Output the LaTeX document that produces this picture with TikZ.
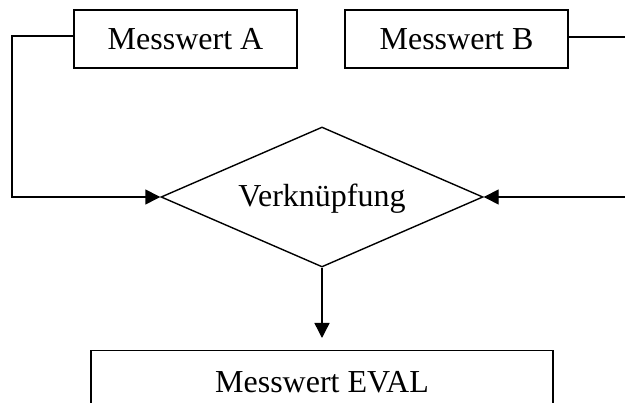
\documentclass[tikz,border=0pt]{standalone}
\usepackage{fontspec}
\setmainfont{Liberation Serif}
\usetikzlibrary{shapes.geometric,arrows.meta}
\begin{document}
\begin{tikzpicture}[x=1pt,y=-1pt,
  line width=1.4pt,
  label font/.style={font=\fontsize{32}{37}\selectfont},
  box/.style={draw,rectangle,minimum width=223pt,minimum height=58pt,inner sep=0pt,label font},
  decision/.style={draw,diamond,aspect=2.3,minimum width=322pt,minimum height=140pt,inner sep=0pt},
  flow/.style={-{Triangle[length=15pt,width=15pt]}}]
\useasboundingbox (0,0) rectangle (625,403);
\clip (0,0) rectangle (625,403);
% input boxes
\node[box] (a) at (185.5,39) {Messwert A};
\node[box] (b) at (456.5,39) {Messwert B};
% decision
\node[decision] (v) at (322,197) {};
\node[label font] (vt) at (322,199) {Verknüpfung};
% result box, running past the lower edge
\node[draw,rectangle,minimum width=462pt,minimum height=120pt,anchor=north,inner sep=0pt] (e) at (322,350) {};
\node[label font] (et) at (322,382) {Messwert EVAL};
% routing points for the side connectors
\coordinate (la) at (12,36);
\coordinate (lb) at (12,197);
\coordinate (ra) at (640,37);
\coordinate (rb) at (640,197);
\coordinate (tip) at (322,338);
\draw (a.west |- la) -- (la) -- (lb) [flow] -- (v.west);
\draw (b.east |- ra) -- (ra) -- (rb) [flow] -- (v.east);
\draw[flow] (v.south) -- (tip);
\end{tikzpicture}
\end{document}
